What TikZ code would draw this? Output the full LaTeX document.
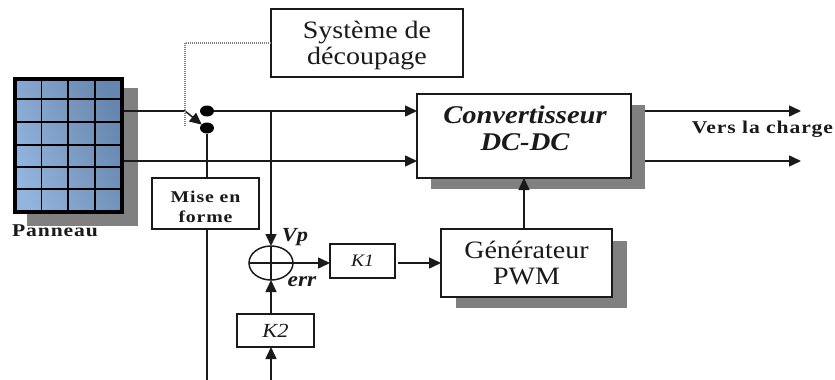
\documentclass[tikz,border=0pt]{standalone}
\usepackage{fontspec}
\setmainfont[FakeStretch=1.12]{Liberation Serif}
\newfontfamily\spacedfont[FakeStretch=1.2,LetterSpace=5]{Liberation Serif}
\usetikzlibrary{arrows.meta,shapes.geometric}
\definecolor{shadowgray}{HTML}{808080}
\definecolor{inkblack}{HTML}{1A1A1A}
\definecolor{celllight}{HTML}{93B4DE}
\definecolor{celldark}{HTML}{6786AD}

\tikzset{
    block/.style={rectangle, draw=inkblack, fill=white, line width=1.5pt, inner sep=0pt, outer sep=0pt, align=center, text=inkblack},
    blocktext/.style={text=inkblack, inner sep=0pt, align=center},
    shadowbox/.style={fill=shadowgray},
    wire/.style={draw=inkblack, line width=1.5pt},
    arrowwire/.style={wire, -{Triangle[length=12pt,width=11pt]}},
    terminal/.style={ellipse, fill=black, minimum width=14pt, minimum height=11pt, inner sep=0pt},
    boldlabel/.style={text=inkblack, inner sep=0pt, font=\fontsize{18}{18}\selectfont\spacedfont\bfseries},
}

\begin{document}
\begin{tikzpicture}[x=1pt, y=-1pt]
    \useasboundingbox (0,0) rectangle (835,380);

    % Shadows
    \fill[shadowbox] (27,88) rectangle (138,226);
    \fill[shadowbox] (431,105) rectangle (645,189);
    \fill[shadowbox] (456,241) rectangle (627,308);

    % Define nodes
    \node (panel) at (68.5,145.5) [rectangle, draw=black, line width=4pt, inner sep=0pt, outer sep=0pt, minimum width=107pt, minimum height=133pt, left color=celllight, right color=celldark, shading angle=110] {};
    \node (decoupage) at (367,43) [block, minimum width=192pt, minimum height=68pt] {};
    \node (decoupagetext) at (367,46) [blocktext, font=\fontsize{25}{26}\selectfont] {Système de\\découpage};
    \node (conv) at (524,136) [block, minimum width=214pt, minimum height=84pt] {};
    \node (convtext) at (525,128.5) [blocktext, font=\fontsize{25.5}{27}\selectfont\bfseries\itshape] {Convertisseur\\DC-DC};
    \node (mise) at (205.5,203.5) [block, minimum width=107pt, minimum height=51pt] {};
    \node (misetext) at (205.5,207) [blocktext, font=\fontsize{16.5}{20}\selectfont\spacedfont\bfseries] {Mise en\\forme};
    \node (pwm) at (526.5,263) [block, minimum width=171pt, minimum height=68pt, font=\fontsize{25}{26}\selectfont] {Générateur\\PWM};
    \node (k1) at (362.5,261) [block, minimum width=65pt, minimum height=34pt, font=\fontsize{17.5}{18}\selectfont\itshape] {K1};
    \node (k2) at (275.5,330.5) [block, minimum width=77pt, minimum height=33pt, font=\fontsize{20}{20}\selectfont\itshape] {K2};
    \node (sum) at (271,263) [ellipse, draw=inkblack, line width=1.5pt, inner sep=0pt, outer sep=0pt, minimum width=44pt, minimum height=34pt] {};
    \node (top) at (207,111) [terminal] {};
    \node (bot) at (207,128) [terminal] {};

    % Define labels
    \node (panneau) at (55,231) [boldlabel] {Panneau};
    \node (charge) at (762.5,129) [boldlabel] {Vers la charge};
    \node (vp) at (295,237) [blocktext, font=\fontsize{20}{20}\selectfont\bfseries\itshape] {Vp};
    \node (err) at (302,282) [blocktext, font=\fontsize{21}{21}\selectfont\bfseries\itshape] {err};

    % Define coordinates
    \coordinate (pivot) at (185,111);
    \coordinate (contact) at (201,124);
    \coordinate (dotcorner) at (185,43);
    \coordinate (dotend) at (185,126);
    \coordinate (junction) at (271,111);
    \coordinate (low) at (124,161);
    \coordinate (lowend) at (417,161);
    \coordinate (topend) at (417,111);
    \coordinate (outa) at (645,111);
    \coordinate (outaend) at (801,111);
    \coordinate (outb) at (645,161);
    \coordinate (outbend) at (801,161);
    \coordinate (misedown) at (207,380);
    \coordinate (k2up) at (271,380);
    \coordinate (k2in) at (271,347);
    \coordinate (k2out) at (271,314);

    % Draw panel cells
    \foreach \x in {41.5,68,95}
        \draw[black, line width=1.6pt] (\x,77) -- (\x,214);
    \foreach \y in {99,122,145,167,189}
        \draw[black, line width=1.6pt] (13,\y) -- (124,\y);

    % Draw arrows
    \draw[wire] (124,111) -- (pivot);
    \draw[arrowwire, shorten >=-1pt] (pivot) -- (contact);
    \draw[wire] (bot) -- (bot |- mise.north);
    \draw[wire] (misedown |- mise.south) -- (misedown);
    \draw[arrowwire] (top) -- (topend);
    \draw[arrowwire] (low) -- (lowend);
    \draw[arrowwire] (junction) -- (sum.north);
    \draw[wire] (sum.west) -- (sum.east);
    \draw[wire] (sum.north) -- (sum.south);
    \draw[arrowwire] (sum.east) -- (sum.east -| k1.west);
    \draw[arrowwire, shorten <=3pt] (k1.east |- pwm) -- (pwm.west);
    \draw[arrowwire] (k2out) -- (sum.south);
    \draw[arrowwire] (k2up) -- (k2in);
    \draw[arrowwire] (pwm.north -| conv) -- (conv.south);
    \draw[arrowwire] (outa) -- (outaend);
    \draw[arrowwire] (outb) -- (outbend);
    \draw[gray, line width=1.2pt, dash pattern=on 1pt off 1pt] (decoupage.west) -- (dotcorner) -- (dotend);
\end{tikzpicture}
\end{document}
